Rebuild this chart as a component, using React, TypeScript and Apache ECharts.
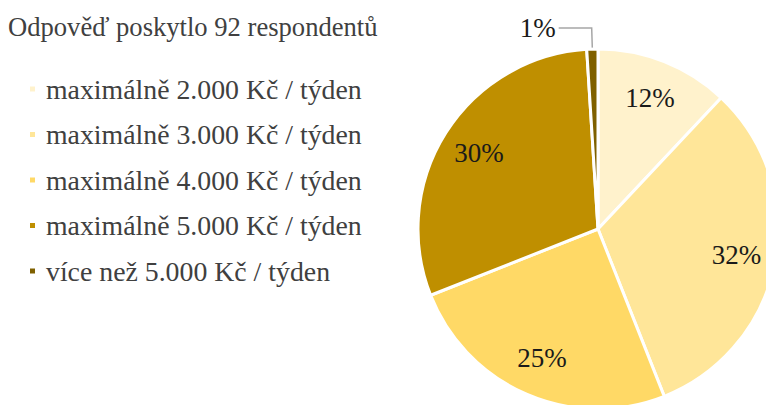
import React, { useEffect, useRef } from "react";
import * as echarts from "echarts";

const title = "Odpověď poskytlo 92 respondentů";
const categories = [
  "maximálně 2.000 Kč / týden",
  "maximálně 3.000 Kč / týden",
  "maximálně 4.000 Kč / týden",
  "maximálně 5.000 Kč / týden",
  "více než 5.000 Kč / týden",
];
const shares = [12, 32, 25, 30, 1];
const colors = ["#FFF2CC", "#FFE699", "#FFD966", "#BF8F00", "#7F6000"];
const insideLabel = [true, true, true, true, false];

const FONT = "Liberation Serif";

export default function App() {
  const ref = useRef<HTMLDivElement>(null);
  useEffect(() => {
    document.body.style.margin = "0";
    if (!ref.current) return;
    const chart = echarts.init(ref.current, null, { renderer: "svg" });
    const center = [598, 229];
    const R = 180;
    chart.setOption({
      animation: false,
      backgroundColor: "#ffffff",
      title: {
        text: title,
        left: 3,
        top: 8,
        textStyle: {
          fontFamily: FONT,
          fontSize: 26.6,
          fontWeight: "normal",
          color: "#404040",
        },
      },
      legend: {
        orient: "vertical",
        left: 23,
        top: 69,
        itemWidth: 7,
        itemHeight: 7,
        itemGap: 15.5,
        icon: "rect",
        selectedMode: false,
        data: categories.map((c, i) => ({ name: c, itemStyle: { color: colors[i] } })),
        textStyle: {
          fontFamily: FONT,
          fontSize: 27.8,
          lineHeight: 30,
          color: "#404040",
          padding: [0, 0, 0, 5],
        },
      },
      series: [
        {
          type: "pie",
          center,
          radius: [0, R],
          startAngle: 90,
          clockwise: true,
          silent: true,
          itemStyle: { borderColor: "#ffffff", borderWidth: 3 },
          data: categories.map((c, i) => ({
            name: c,
            value: shares[i],
            itemStyle: { color: colors[i] },
            label: { show: !insideLabel[i] },
            labelLine: { show: !insideLabel[i] },
          })),
          label: {
            position: "outside",
            formatter: (p: any) => `${p.value}%`,
            fontFamily: FONT,
            fontSize: 27,
            color: "#1a1a1a",
            distanceToLabelLine: 3,
          },
          labelLine: {
            length: 21,
            length2: 33,
            lineStyle: { color: "#A6A6A6", width: 1.5 },
          },
        },
        {
          type: "pie",
          center,
          radius: [96, R],
          startAngle: 90,
          clockwise: true,
          silent: true,
          itemStyle: { color: "rgba(0,0,0,0)", borderWidth: 0 },
          data: categories.map((c, i) => ({
            name: c + " ",
            value: shares[i],
            label: { show: insideLabel[i] },
          })),
          label: {
            position: "inside",
            formatter: (p: any) => `${p.value}%`,
            fontFamily: FONT,
            fontSize: 27,
            color: "#1a1a1a",
          },
          labelLine: { show: false },
        },
      ],
    });
    return () => chart.dispose();
  }, []);
  return <div ref={ref} style={{ width: 766, height: 405 }} />;
}
